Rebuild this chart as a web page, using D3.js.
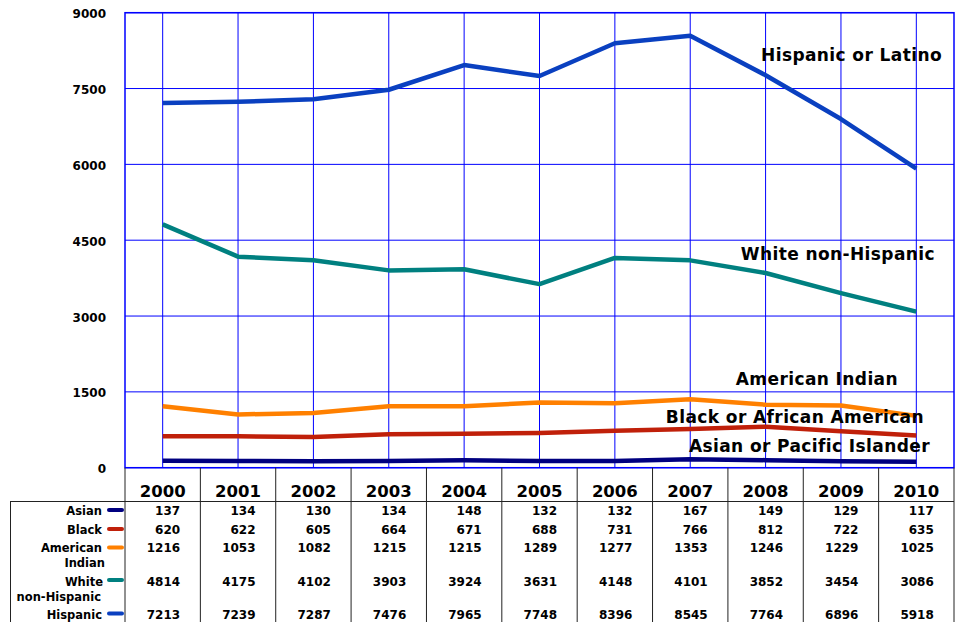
<!DOCTYPE html>
<html>
<head>
<meta charset="utf-8">
<script src="https://cdn.jsdelivr.net/npm/d3@7"></script>
<style>
  body { margin: 0; background: #fff; }
  text { font-family: "DejaVu Sans", Verdana, sans-serif; font-weight: bold; fill: #000; }
</style>
</head>
<body>
<div id="Canvas"></div>
<script>
// data
const years = [2000, 2001, 2002, 2003, 2004, 2005, 2006, 2007, 2008, 2009, 2010]
const asian = [137, 134, 130, 134, 148, 132, 132, 167, 149, 129, 117]
const black = [620, 622, 605, 664, 671, 688, 731, 766, 812, 722, 635]
const amIndian = [1216, 1053, 1082, 1215, 1215, 1289, 1277, 1353, 1246, 1229, 1025]
const white = [4814, 4175, 4102, 3903, 3924, 3631, 4148, 4101, 3852, 3454, 3086]
const hispanic = [7213, 7239, 7287, 7476, 7965, 7748, 8396, 8545, 7764, 6896, 5918]
const yTicks = [0, 1500, 3000, 4500, 6000, 7500, 9000]
const seriesNames = ["Asian or Pacific Islander", "Black or African American", "American Indian", "White non-Hispanic", "Hispanic or Latino"]
const rowLabels = [["Asian"], ["Black"], ["American", "Indian"], ["White", "non-Hispanic"], ["Hispanic"]]

const W = 958, H = 622
const plotL = 125, plotR = 954, plotT = 12.7, plotB = 467.7

let svg = d3.select("#Canvas")
    .append("svg")
    .attr("width", W)
    .attr("height", H)

let xScale = d3.scaleBand()
    .domain(years)
    .range([plotL, plotR])
let xc = (yr) => xScale(yr) + xScale.bandwidth() / 2
let yScale = d3.scaleLinear()
    .domain([0, 9000])
    .range([plotB, plotT])

//每條線的樣式
let series = [
    { name: seriesNames[0], values: asian, color: "#000080" },
    { name: seriesNames[1], values: black, color: "#c0200a" },
    { name: seriesNames[2], values: amIndian, color: "#ff8000" },
    { name: seriesNames[3], values: white, color: "#008080" },
    { name: seriesNames[4], values: hispanic, color: "#0a40c0" }
]

//格線
let grid = svg.append("g")
grid.selectAll("line.h")
    .data(yTicks)
    .enter()
    .append("line")
    .attr("x1", plotL).attr("x2", plotR)
    .attr("y1", d => yScale(d)).attr("y2", d => yScale(d))
    .style("stroke", "#0000ff").style("stroke-width", 1)
grid.selectAll("line.v")
    .data(years)
    .enter()
    .append("line")
    .attr("x1", d => xc(d)).attr("x2", d => xc(d))
    .attr("y1", plotT).attr("y2", plotB)
    .style("stroke", "#0000ff").style("stroke-width", 1)
svg.append("rect")
    .attr("x", plotL).attr("y", plotT)
    .attr("width", plotR - plotL).attr("height", plotB - plotT)
    .style("fill", "none").style("stroke", "#0000ff").style("stroke-width", 1.5)

//y軸文字
svg.append("g")
    .selectAll("text")
    .data(yTicks)
    .enter()
    .append("text")
    .attr("x", 106)
    .attr("y", d => yScale(d) + 5.5)
    .attr("text-anchor", "end")
    .style("font-size", "12px")
    .text(d => d)

//折線
let line = d3.line()
    .x((d, i) => xc(years[i]))
    .y(d => yScale(d))
svg.append("g")
    .selectAll("path")
    .data(series)
    .enter()
    .append("path")
    .attr("d", d => line(d.values))
    .style("fill", "none")
    .style("stroke", d => d.color)
    .style("stroke-width", 4.5)
    .style("stroke-linejoin", "round")

//線旁邊的名字
let labelPos = [[930, 451.5], [924, 422.5], [898, 385], [935, 260], [942, 61]]
svg.append("g")
    .selectAll("text")
    .data(series)
    .enter()
    .append("text")
    .attr("x", (d, i) => labelPos[i][0])
    .attr("y", (d, i) => labelPos[i][1])
    .attr("text-anchor", "end")
    .style("font-size", "17px")
    .style("letter-spacing", "0.4px")
    .text(d => d.name)

//表格
let table = svg.append("g")
let bounds = years.map(d => xScale(d)).concat([plotR])
table.selectAll("line.col")
    .data(bounds)
    .enter()
    .append("line")
    .attr("x1", d => d).attr("x2", d => d)
    .attr("y1", plotB).attr("y2", H)
    .style("stroke", "#222").style("stroke-width", 1)
table.append("line")
    .attr("x1", 10).attr("x2", plotR)
    .attr("y1", 501.5).attr("y2", 501.5)
    .style("stroke", "#222").style("stroke-width", 1)
table.append("line")
    .attr("x1", 10.5).attr("x2", 10.5)
    .attr("y1", 501.5).attr("y2", H)
    .style("stroke", "#222").style("stroke-width", 1)

//年份
table.selectAll("text.year")
    .data(years)
    .enter()
    .append("text")
    .attr("x", d => xc(d))
    .attr("y", 497)
    .attr("text-anchor", "middle")
    .style("font-size", "16.5px")
    .text(d => d)

let rowBase = [515, 534, 552, 586, 618.5]
let swatchY = [510, 529, 547.5, 580, 613.5]
let rowLines = [[102], [102], [102, 105], [103, 101], [102]]
series.forEach((s, r) => {
    rowLabels[r].forEach((t, k) => {
        table.append("text")
            .attr("x", rowLines[r][k])
            .attr("y", rowBase[r] + k * 15)
            .attr("text-anchor", "end")
            .style("font-size", "11.5px")
            .text(t)
    })
    table.append("line")
        .attr("x1", 109).attr("x2", 122)
        .attr("y1", swatchY[r]).attr("y2", swatchY[r])
        .style("stroke", s.color)
        .style("stroke-width", 4)
        .style("stroke-linecap", "round")
    table.selectAll("text.v" + r)
        .data(s.values)
        .enter()
        .append("text")
        .attr("x", (d, i) => xc(years[i]) + 17.5)
        .attr("y", rowBase[r])
        .attr("text-anchor", "end")
        .style("font-size", "12px")
        .text(d => d)
})
</script>
</body>
</html>
